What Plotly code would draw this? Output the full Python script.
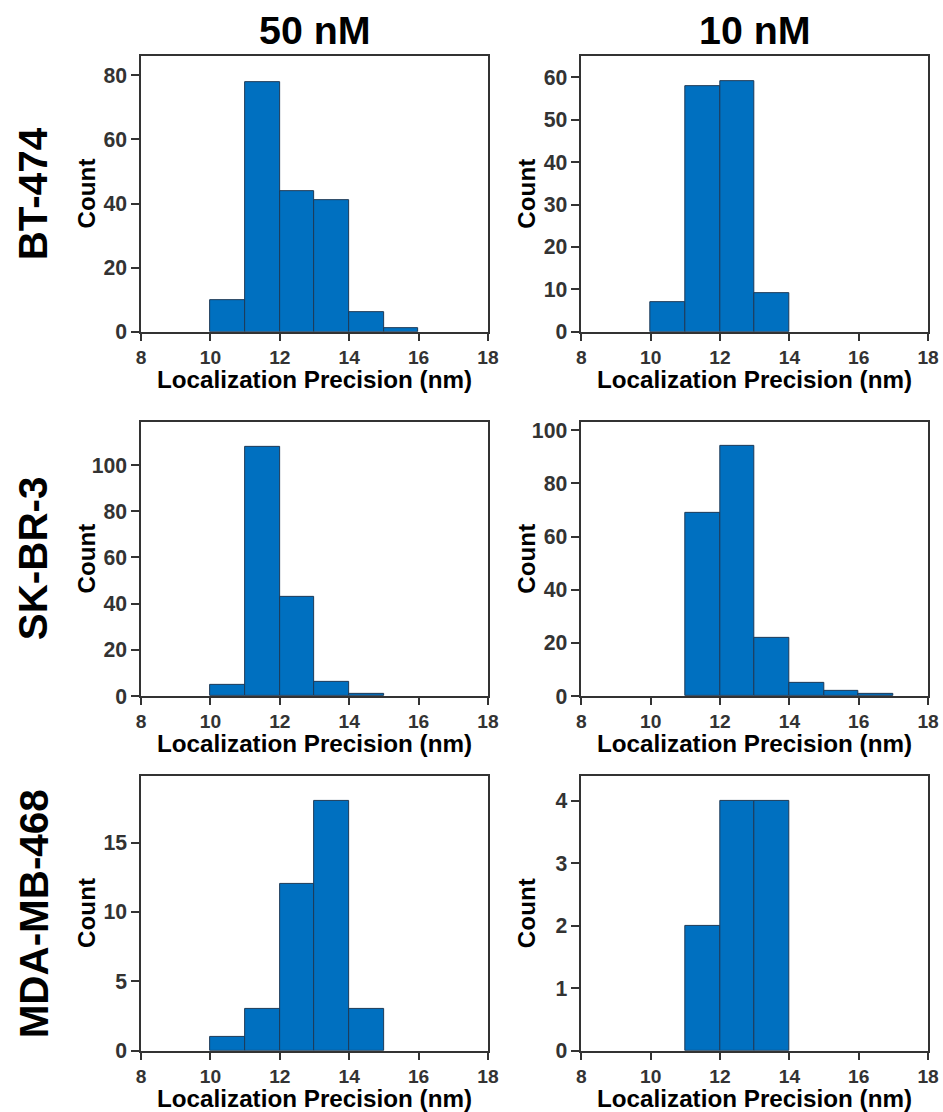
import plotly.graph_objects as go

# ---------------- data ----------------
bin_left = [8, 9, 10, 11, 12, 13, 14, 15, 16, 17]   # bin left edges (nm), width 1
bin_width = 1
x_ticks = [8, 10, 12, 14, 16, 18]

cell_lines = ["BT-474", "SK-BR-3", "MDA-MB-468"]
concentrations = ["50 nM", "10 nM"]

bt474_50nM = [0, 0, 10, 78, 44, 41, 6, 1, 0, 0]
bt474_10nM = [0, 0, 7, 58, 59, 9, 0, 0, 0, 0]
skbr3_50nM = [0, 0, 5, 108, 43, 6, 1, 0, 0, 0]
skbr3_10nM = [0, 0, 0, 69, 94, 22, 5, 2, 1, 0]
mda468_50nM = [0, 0, 1, 3, 12, 18, 3, 0, 0, 0]
mda468_10nM = [0, 0, 0, 2, 4, 4, 0, 0, 0, 0]

counts = [[bt474_50nM, bt474_10nM],
          [skbr3_50nM, skbr3_10nM],
          [mda468_50nM, mda468_10nM]]

y_ranges = [[86, 65], [118.7, 103.1], [19.8, 4.4]]
y_dticks = [[20, 10], [20, 20], [5, 1]]

# ---------------- layout geometry ----------------
S = 1 / 0.99          # compensation for observed render scaling
W0, H0 = 943, 1112
W, H = round(W0 * S), round(H0 * S)
col_px = [(137, 486), (580, 929)]
row_px = [(53.3, 329.6), (420, 695), (775, 1050.7)]

BAR = "#0070C0"
EDGE = "#1d3a57"
AX = "#333333"
FONT = "Liberation Sans, Arial, sans-serif"

fig = go.Figure()
annotations = []

for r in range(3):
    for c in range(2):
        idx = r * 2 + c + 1
        xa = "x" if idx == 1 else f"x{idx}"
        ya = "y" if idx == 1 else f"y{idx}"
        centers = [b + bin_width / 2 for b in bin_left]
        vals = counts[r][c]
        fig.add_trace(go.Bar(
            x=centers, y=vals, width=bin_width,
            marker=dict(color=BAR,
                        line=dict(color=EDGE,
                                  width=[1 if v > 0 else 0 for v in vals])),
            xaxis=xa, yaxis=ya, showlegend=False, hoverinfo="x+y"))
        x0, x1 = col_px[c]
        yt, yb = row_px[r]
        xkey = "xaxis" if idx == 1 else f"xaxis{idx}"
        ykey = "yaxis" if idx == 1 else f"yaxis{idx}"
        fig.layout[xkey] = dict(
            domain=[x0 / W0, x1 / W0], anchor=ya, range=[8, 18],
            tickvals=x_ticks, ticks="outside", ticklen=7 * S, tickwidth=1.5,
            tickcolor=AX, showline=True, linecolor=AX, linewidth=1.5,
            mirror=True, showgrid=False, zeroline=False,
            tickfont=dict(family=FONT, size=19 * S, color=AX, weight="bold"))
        fig.layout[ykey] = dict(
            domain=[1 - yb / H0, 1 - yt / H0], anchor=xa,
            range=[0, y_ranges[r][c]], dtick=y_dticks[r][c], tick0=0,
            ticks="outside", ticklen=8 * S, tickwidth=1.5, tickcolor=AX,
            showline=True, linecolor=AX, linewidth=1.5, mirror=True,
            showgrid=False, zeroline=False,
            tickfont=dict(family=FONT, size=21 * S, color=AX, weight="bold"))
        annotations.append(dict(
            text="<b>Count</b>", xref=f"{xa} domain", yref=f"{ya} domain",
            x=0, y=0.5, xshift=-54 * S, textangle=-90, showarrow=False,
            xanchor="center", yanchor="middle",
            font=dict(family=FONT, size=24 * S, color="black")))
        annotations.append(dict(
            text="<b>Localization Precision (nm)</b>", xref=f"{xa} domain",
            yref=f"{ya} domain", x=0.5, y=0, yshift=-47 * S, showarrow=False,
            xanchor="center", yanchor="middle",
            font=dict(family=FONT, size=24 * S, color="black")))

for c, name in enumerate(concentrations):
    cx = (col_px[c][0] + col_px[c][1]) / 2 / W0
    annotations.append(dict(
        text=f"<b>{name}</b>", xref="paper", yref="paper",
        x=cx, y=1 - 27 / H0, showarrow=False, xanchor="center",
        yanchor="middle", font=dict(family=FONT, size=39 * S, color="black")))

row_cy = [191, 557, 913]
for r, name in enumerate(cell_lines):
    annotations.append(dict(
        text=f"<b>{name}</b>", xref="paper", yref="paper",
        x=29 / W0, y=1 - row_cy[r] / H0, textangle=-90, showarrow=False,
        xanchor="center", yanchor="middle",
        font=dict(family=FONT, size=40 * S, color="black")))

fig.update_layout(
    width=W, height=H, margin=dict(l=0, r=0, t=0, b=0),
    paper_bgcolor="white", plot_bgcolor="white",
    annotations=annotations, bargap=0, showlegend=False)

fig.write_html("out.html", config={"displayModeBar": False},
               post_script="document.body.style.margin='0';"
                           "document.body.style.padding='0';"
                           "document.body.style.overflow='hidden';")
